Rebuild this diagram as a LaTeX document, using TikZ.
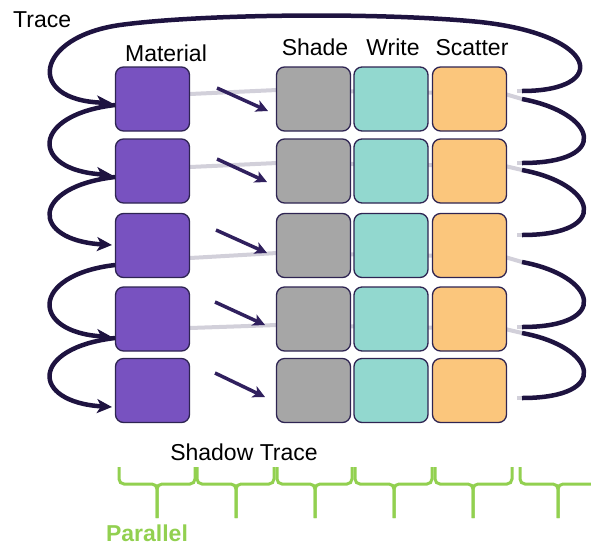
\documentclass[tikz,border=0pt]{standalone}
\usepackage{fontspec}
\setmainfont{Liberation Sans}
\usetikzlibrary{arrows.meta}
\definecolor{matc}{HTML}{7852C0}
\definecolor{shadec}{HTML}{A6A6A6}
\definecolor{writec}{HTML}{92D8CF}
\definecolor{scatc}{HTML}{FBC67C}
\definecolor{edgec}{HTML}{2E2452}
\definecolor{tracec}{HTML}{1E1340}
\definecolor{arrc}{HTML}{30205E}
\definecolor{greyl}{HTML}{D2D0DA}
\definecolor{greenc}{HTML}{92D050}
\begin{document}
\begin{tikzpicture}[x=1pt,y=-1pt,
 box/.style={draw=edgec, line width=1.3pt, rounded corners=8pt, minimum width=74pt, minimum height=64pt, inner sep=0pt},
 lbl/.style={font=\fontsize{23}{27}\selectfont, inner sep=0pt, text=black},
 trace/.style={draw=tracec, line width=4.5pt},
 tracearr/.style={trace, -{Stealth[length=15pt,width=14pt,inset=4pt]}},
 rowline/.style={draw=greyl, line width=4pt},
 smallarr/.style={draw=arrc, line width=3.5pt, -{Stealth[length=12pt,width=12pt,inset=3pt]}},
 brace/.style={draw=greenc, line width=3pt, rounded corners=5pt}]
\useasboundingbox (0,0) rectangle (591,547);

% labels
\node[lbl, anchor=base west] (tTrace) at (13,27) {Trace};
\node[lbl, anchor=base] (tMat) at (166,61) {Material};
\node[lbl, anchor=base] (tShade) at (315,55) {Shade};
\node[lbl, anchor=base] (tWrite) at (393,55) {Write};
\node[lbl, anchor=base] (tScat) at (472,55) {Scatter};
\node[lbl, anchor=base] (tShadow) at (244,460) {Shadow Trace};
\node[lbl, anchor=base, text=greenc, font=\fontsize{23}{27}\selectfont\bfseries] (tPar) at (147,541) {Parallel};

% grey row lines (behind boxes)
\draw[rowline] (190,94) -- (277,90) -- (505,94) -- (522,99);
\draw[rowline] (190,167) -- (277,163) -- (505,166) -- (522,170);
\draw[rowline] (190,258) -- (277,253) -- (505,257) -- (522,262);
\draw[rowline] (190,328) -- (277,325) -- (505,329) -- (522,333);
\foreach \yy in {91,163,235,327,398}{\draw[rowline] (517,\yy) -- (523,\yy);}

% boxes
\foreach \r/\yc in {1/99,2/171,3/245.5,4/319,5/390.5}{
  \node[box, fill=matc] (m\r) at (152.5,\yc) {};
  \node[box, fill=shadec] (s\r) at (313.5,\yc) {};
  \node[box, fill=writec] (w\r) at (391,\yc) {};
  \node[box, fill=scatc] (c\r) at (469.5,\yc) {};
}

% small arrows material -> shade
\coordinate (a1s) at (217,88);  \coordinate (a1e) at (268,111);
\coordinate (a2s) at (217,159); \coordinate (a2e) at (267,182);
\coordinate (a3s) at (216,230); \coordinate (a3e) at (267,253);
\coordinate (a4s) at (215,302); \coordinate (a4e) at (265,325);
\coordinate (a5s) at (215,373); \coordinate (a5e) at (265,397);
\foreach \i in {1,...,5}{\draw[smallarr] (a\i s) -- (a\i e);}

% trace curves
\coordinate (topR) at (522,91);
\coordinate (in1) at (112,103);
\draw[tracearr] (topR) .. controls (610,91) and (600,35) .. (480,22)
   .. controls (380,12) and (200,14) .. (120,25)
   .. controls (35,37) and (25,100) .. (in1);

% left curves
\foreach \ys/\ye in {105/175,177/245,265/337,338/407}{
  \coordinate (ls) at (115,\ys); \coordinate (le) at (112,\ye);
  \draw[tracearr] (ls) .. controls (30,\ys+10) and (30,\ye-5) .. (le);
}
% right curves
\foreach \ys/\ye in {99/163,170/235,262/327,333/398}{
  \coordinate (rs) at (522,\ys); \coordinate (re) at (522,\ye);
  \draw[trace] (rs) .. controls (597,\ys+14) and (612,\ye) .. (re);
}

% green braces
\foreach \xa/\xb/\xc in {119/195/157,197/274/236,277/352/315,355/432/394,435/512/473}{
  \draw[brace] (\xa,467) -- (\xa,484) -- (\xc,484) -- (\xc,518);
  \draw[brace] (\xb,467) -- (\xb,484) -- (\xc,484) -- (\xc,518);
}
\draw[brace] (520,467) -- (520,484) -- (558,484) -- (558,518);
\draw[brace] (595,484) -- (558,484) -- (558,518);
\end{tikzpicture}
\end{document}
